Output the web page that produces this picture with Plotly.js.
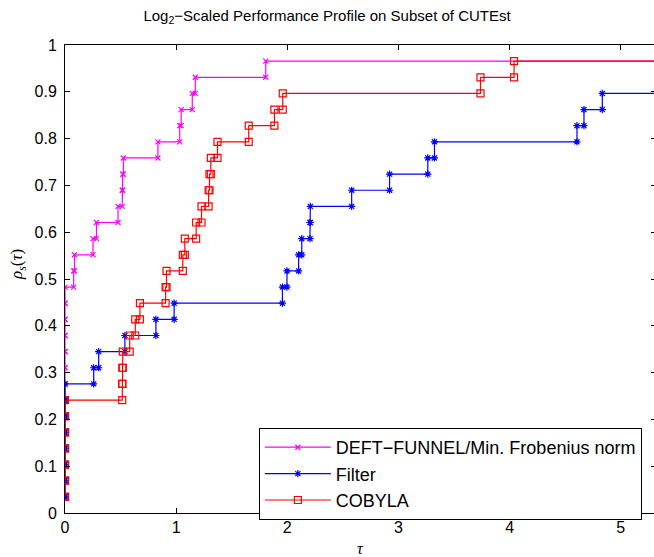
<!DOCTYPE html>
<html>
<head>
<meta charset="utf-8">
<script src="https://cdn.plot.ly/plotly-3.0.1.min.js"></script>
<style>html,body{margin:0;padding:0;overflow:hidden;background:#fff;}#chart{width:658px;height:557px;}</style>
</head>
<body>
<div id="chart"></div>
<script>
// log2-scaled performance ratios, sorted; failures placed beyond the axis (2*max)
const nProblems = 29;
const seriesNames = ["DEFT\u2212FUNNEL/Min. Frobenius norm", "Filter", "COBYLA"];
const deftRatios = [0,0,0,0,0,0,0,0,0,0,0,0,0,0,
  0.078,0.085,0.252,0.283,0.477,0.515,0.519,0.525,0.836,1.032,1.045,1.145,1.172,1.806,9.67];
const filterRatios = [0,0,0,0,0,0,0,0,
  0.258,0.303,0.539,0.818,0.982,1.956,1.997,2.102,2.130,2.204,2.207,2.579,2.920,3.264,3.324,4.606,4.669,4.834,
  9.67,9.67,9.67];
const cobylaRatios = [0,0,0,0,0,0,0,
  0.515,0.516,0.520,0.582,0.632,0.674,0.905,0.913,1.060,1.078,1.180,1.228,1.292,1.300,1.312,1.372,1.653,1.884,1.959,3.738,4.040,
  9.67];
const xTicks = [0,1,2,3,4,5];
const yTicks = [0,0.1,0.2,0.3,0.4,0.5,0.6,0.7,0.8,0.9,1];
const xMax = 5.317;

function stairs(r){
  const xs=[], ys=[];
  for(let i=0;i<r.length;i++){
    const y=(i+1)/nProblems;
    xs.push(r[i]); ys.push(y);
    if(i<r.length-1){ xs.push(r[i+1]); ys.push(y); }
  }
  return {xs, ys};
}

const styles = [
  {color:'#ff00ff', symbol:'x-thin-open', size:5},
  {color:'#0000ff', symbol:'asterisk-open', size:6},
  {color:'#ff0000', symbol:'square-open', size:7}
];
const all = [deftRatios, filterRatios, cobylaRatios];
const traces = all.map((r,k)=>{
  const s = stairs(r);
  return {
    x:s.xs, y:s.ys, type:'scatter', mode:'lines+markers', name:seriesNames[k],
    line:{color:styles[k].color, width:1.2},
    marker:{symbol:styles[k].symbol, size:styles[k].size, color:styles[k].color,
            line:{color:styles[k].color, width:1.2}},
    cliponaxis:true
  };
});

const axisCommon = {
  showline:true, linecolor:'#000', linewidth:1, mirror:'ticks',
  ticks:'inside', ticklen:5, tickcolor:'#000', tickwidth:1,
  showgrid:false, zeroline:false,
  tickfont:{family:'Liberation Sans, Arial, sans-serif', size:16, color:'#000'}
};

const layout = {
  width:658, height:557,
  margin:{l:65, r:2, t:45, b:44},
  paper_bgcolor:'#fff', plot_bgcolor:'#fff',
  showlegend:true,
  title:{text:'Log<sub>2</sub>\u2212Scaled Performance Profile on Subset of CUTEst',
         font:{family:'Liberation Sans, Arial, sans-serif', size:15, color:'#000'},
         xref:'container', x:0.497, xanchor:'center', yref:'container', y:0.972, yanchor:'middle'},
  xaxis:Object.assign({}, axisCommon, {range:[0,xMax], tickvals:xTicks, ticktext:xTicks.map(String)}),
  yaxis:Object.assign({}, axisCommon, {range:[0,1], tickvals:yTicks, ticktext:yTicks.map(String), ticklabelstandoff:4}),
  legend:{x:0.328, y:0.1816, xanchor:'left', yanchor:'top', bgcolor:'#fff',
          bordercolor:'#000', borderwidth:1, itemwidth:66,
          font:{family:'Liberation Sans, Arial, sans-serif', size:18, color:'#000'},
          tracegroupgap:0},
  annotations:[
    {text:'<i>ρ</i><sub><i>s</i></sub>(<i>τ</i>)', xref:'paper', yref:'paper', x:-0.0795, y:0.53,
     showarrow:false, textangle:-90, xanchor:'center', yanchor:'middle',
     font:{family:'Liberation Serif, Times New Roman, serif', size:17, color:'#000'}},
    {text:'<i>τ</i>', xref:'paper', yref:'paper', x:0.5, y:-0.075, showarrow:false,
     xanchor:'center', yanchor:'middle',
     font:{family:'Liberation Serif, Times New Roman, serif', size:16, color:'#000'}}
  ]
};

Plotly.newPlot('chart', traces, layout, {displayModeBar:false, staticPlot:true});
</script>
</body>
</html>
